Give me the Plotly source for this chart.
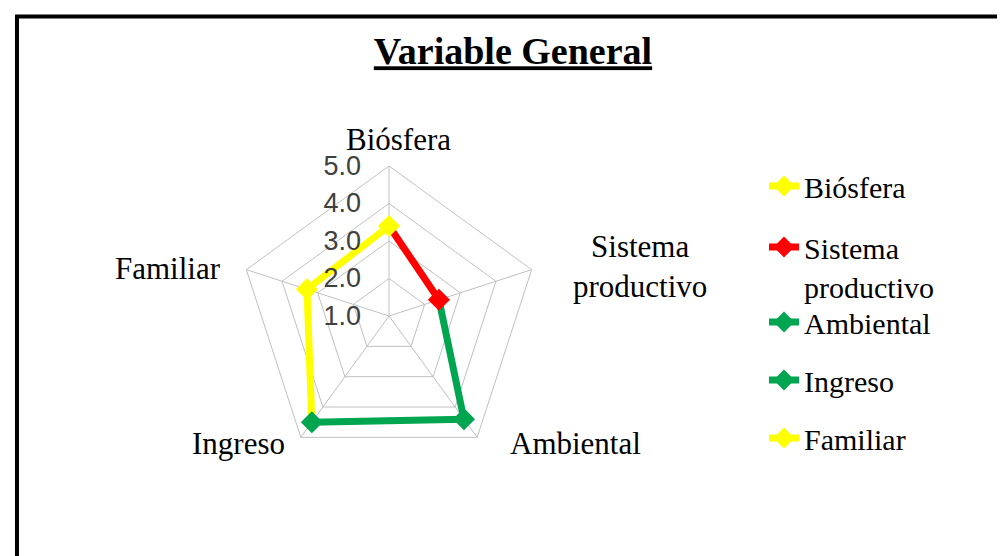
import plotly.graph_objects as go

categories = ["Biósfera", "Sistema<br>productivo", "Ambiental", "Ingreso", "Familiar"]
legend_names = ["Biósfera", "Sistema<br>productivo", "Ambiental", "Ingreso", "Familiar"]
values = [3.4, 2.4, 4.4, 4.5, 3.3]
colors = ["#FFFF00", "#FF0000", "#00A550", "#00A550", "#FFFF00"]
radial_ticks = [1, 2, 3, 4, 5]

W, H = 1005, 556
cx, cy, R = 381, 308, 150

fig = go.Figure()

n = len(categories)
# coloured segments: each point's colour is used for the segment arriving at it
for i in range(n):
    prev = (i - 1) % n
    fig.add_trace(go.Scatterpolar(
        r=[values[prev], values[i]],
        theta=[categories[prev], categories[i]],
        mode="lines",
        line=dict(color=colors[i], width=7),
        showlegend=False, hoverinfo="skip",
    ))

# markers (one trace per point, also giving the legend entries)
for i in range(n):
    fig.add_trace(go.Scatterpolar(
        r=[values[i]], theta=[categories[i]],
        mode="lines+markers",
        line=dict(color=colors[i], width=7),
        marker=dict(symbol="diamond", size=17, color=colors[i]),
        name=legend_names[i],
        legend="legend" if i < 2 else "legend2",
        legendgroup=str(i),
        hoverinfo="skip",
    ))

serif = "Liberation Serif, Times New Roman, serif"

# category labels placed around the chart
label_pos = [(390, 132), (632, 258), (567, 435), (230, 435), (160, 260)]
annotations = []
for cat, (x, y) in zip(categories, label_pos):
    annotations.append(dict(
        text=cat, x=x / W, y=1 - y / H, xref="paper", yref="paper",
        xanchor="center", yanchor="middle", showarrow=False, align="center",
        font=dict(family=serif, size=31, color="black"),
    ))

fig.update_layout(
    width=W, height=H,
    margin=dict(l=0, r=0, t=0, b=0),
    paper_bgcolor="white",
    title=dict(text="<b><u>Variable General</u></b>", x=505 / W, xanchor="center",
               y=1 - 43 / H, yanchor="middle",
               font=dict(family=serif, size=38, color="black")),
    polar=dict(
        domain=dict(x=[(cx - R) / W, (cx + R) / W],
                    y=[(H - cy - R) / H, (H - cy + R) / H]),
        bgcolor="white",
        gridshape="linear",
        radialaxis=dict(range=[1, 5], tickvals=radial_ticks, tickformat=".1f",
                        angle=90, side="counterclockwise", tickangle=90,
                        showline=False, gridcolor="#c0c0c0", gridwidth=1,
                        ticks="outside", ticklen=18, tickcolor="rgba(0,0,0,0)",
                        tickfont=dict(family="Liberation Sans, Arial", size=27, color="#404040")),
        angularaxis=dict(direction="clockwise", rotation=90,
                         categoryorder="array", categoryarray=categories,
                         showline=True, linecolor="#c0c0c0", linewidth=1,
                         gridcolor="#c0c0c0", ticks="", showticklabels=False),
    ),
    legend=dict(x=756 / W, y=1 - 152 / H, xanchor="left", yanchor="top",
                font=dict(family=serif, size=30, color="black"),
                tracegroupgap=19, valign="top", bgcolor="rgba(0,0,0,0)"),
    legend2=dict(x=756 / W, y=1 - 288 / H, xanchor="left", yanchor="top",
                 font=dict(family=serif, size=30, color="black"),
                 tracegroupgap=16, valign="top", bgcolor="rgba(0,0,0,0)"),
    annotations=annotations,
    shapes=[
        dict(type="line", xref="paper", yref="paper", x0=7 / W, x1=1, y0=1 - 8.5 / H, y1=1 - 8.5 / H,
             line=dict(color="black", width=4)),
        dict(type="line", xref="paper", yref="paper", x0=9 / W, x1=9 / W, y0=0, y1=1 - 7 / H,
             line=dict(color="black", width=4)),
        dict(type="line", xref="paper", yref="paper", x0=9 / W, x1=1, y0=1 / H, y1=1 / H,
             line=dict(color="#d0d0d0", width=1)),
    ],
)

fig.write_html("out.html")
